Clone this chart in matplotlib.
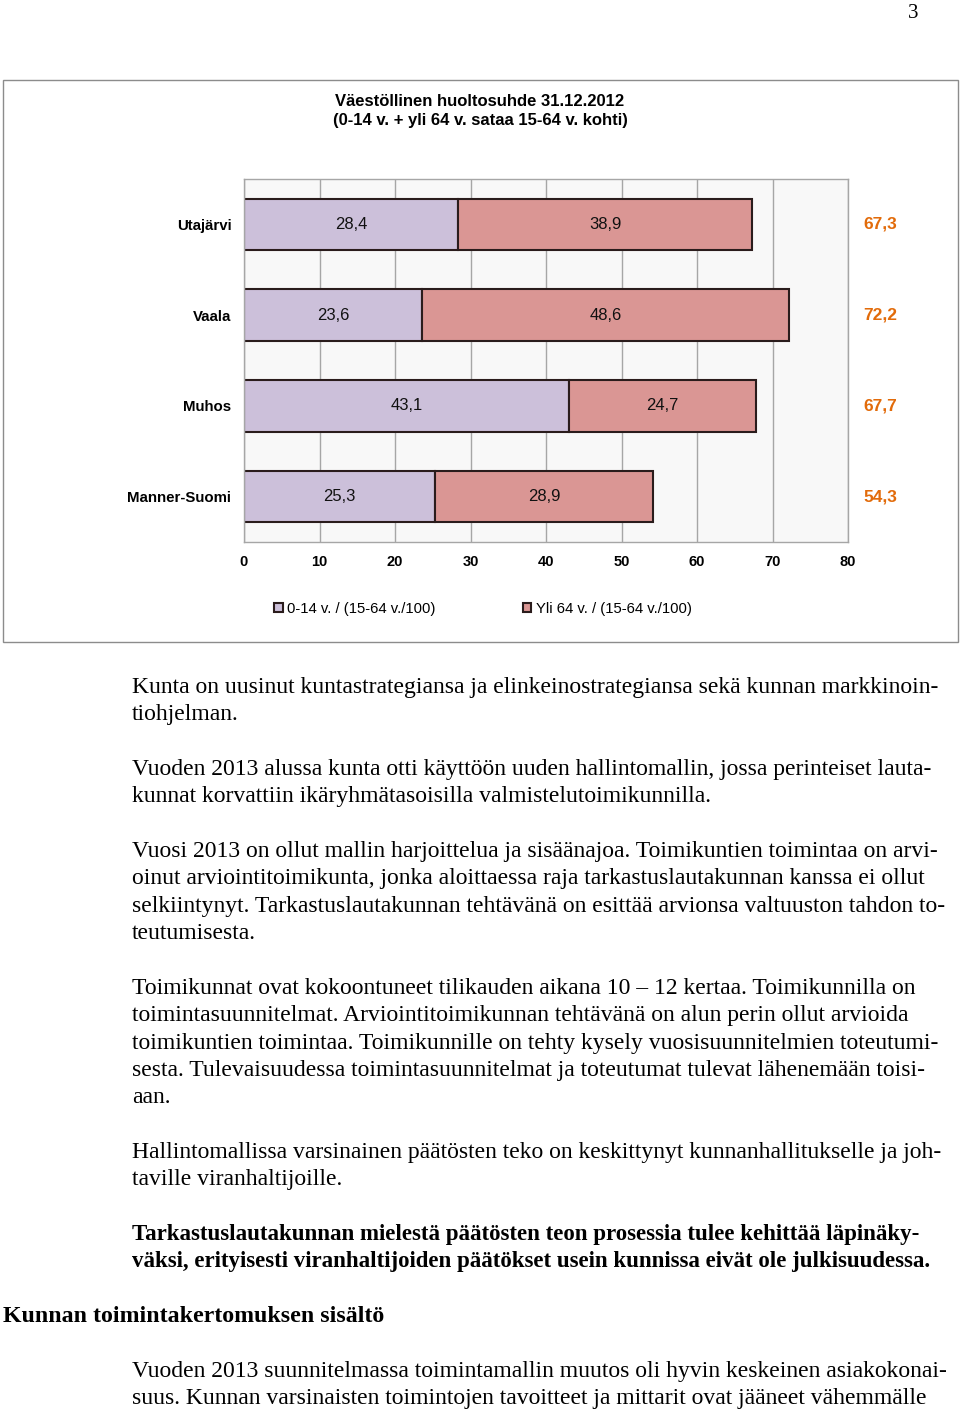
import matplotlib.pyplot as plt
from matplotlib.patches import Rectangle

# chart data
regions = ['Utajärvi', 'Vaala', 'Muhos', 'Manner-Suomi']
young = [28.4, 23.6, 43.1, 25.3]
old = [38.9, 48.6, 24.7, 28.9]
total = [67.3, 72.2, 67.7, 54.3]
series_names = ['0-14 v. / (15-64 v./100)', 'Yli 64 v. / (15-64 v./100)']
chart_title = 'Väestöllinen huoltosuhde 31.12.2012\n(0-14 v. + yli 64 v. sataa 15-64 v. kohti)'
x_ticks = [0, 10, 20, 30, 40, 50, 60, 70, 80]

# page text below the chart: (text, weight, indented); None = blank line
body_lines = [
    ('Kunta on uusinut kuntastrategiansa ja elinkeinostrategiansa sekä kunnan markkinoin-', 'normal', True),
    ('tiohjelman.', 'normal', True),
    None,
    ('Vuoden 2013 alussa kunta otti käyttöön uuden hallintomallin, jossa perinteiset lauta-', 'normal', True),
    ('kunnat korvattiin ikäryhmätasoisilla valmistelutoimikunnilla.', 'normal', True),
    None,
    ('Vuosi 2013 on ollut mallin harjoittelua ja sisäänajoa. Toimikuntien toimintaa on arvi-', 'normal', True),
    ('oinut arviointitoimikunta, jonka aloittaessa raja tarkastuslautakunnan kanssa ei ollut', 'normal', True),
    ('selkiintynyt. Tarkastuslautakunnan tehtävänä on esittää arvionsa valtuuston tahdon to-', 'normal', True),
    ('teutumisesta.', 'normal', True),
    None,
    ('Toimikunnat ovat kokoontuneet tilikauden aikana 10 – 12 kertaa. Toimikunnilla on', 'normal', True),
    ('toimintasuunnitelmat. Arviointitoimikunnan tehtävänä on alun perin ollut arvioida', 'normal', True),
    ('toimikuntien toimintaa. Toimikunnille on tehty kysely vuosisuunnitelmien toteutumi-', 'normal', True),
    ('sesta. Tulevaisuudessa toimintasuunnitelmat ja toteutumat tulevat lähenemään toisi-', 'normal', True),
    ('aan.', 'normal', True),
    None,
    ('Hallintomallissa varsinainen päätösten teko on keskittynyt kunnanhallitukselle ja joh-', 'normal', True),
    ('taville viranhaltijoille.', 'normal', True),
    None,
    ('Tarkastuslautakunnan mielestä päätösten teon prosessia tulee kehittää läpinäky-', 'bold', True),
    ('väksi, erityisesti viranhaltijoiden päätökset usein kunnissa eivät ole julkisuudessa.', 'bold', True),
    None,
    ('Kunnan toimintakertomuksen sisältö', 'bold', False),
    None,
    ('Vuoden 2013 suunnitelmassa toimintamallin muutos oli hyvin keskeinen asiakokonai-', 'normal', True),
    ('suus. Kunnan varsinaisten toimintojen tavoitteet ja mittarit ovat jääneet vähemmälle', 'normal', True),
]

W, H = 960, 1410
plt.rcParams['font.family'] = ['Liberation Sans', 'DejaVu Sans']
serif = ['Liberation Serif', 'DejaVu Serif']

fig = plt.figure(figsize=(W / 100, H / 100), dpi=100)

# chart frame
fig.patches.append(Rectangle((3 / W, 1 - 642 / H), 955 / W, 562 / H, transform=fig.transFigure,
                             facecolor='none', edgecolor='#8c8c8c', linewidth=1.0, zorder=-1))

ax = fig.add_axes([244 / W, 1 - 542 / H, 604 / W, 363 / H])
ax.set_facecolor('#f8f8f8')

ypos = list(range(len(regions)))
bar_h = 0.57
b1 = ax.barh(ypos, young, height=bar_h, color='#ccc0da', edgecolor='#2a1c1c', linewidth=1.5,
             label=series_names[0])
b2 = ax.barh(ypos, old, left=young, height=bar_h, color='#da9694', edgecolor='#2a1c1c',
             linewidth=1.5, label=series_names[1])
for bars, vals in ((b1, young), (b2, old)):
    ax.bar_label(bars, labels=[f'{v:.1f}'.replace('.', ',') for v in vals], label_type='center',
                 fontsize=12, color='#111111')

for y, t in zip(ypos, total):
    ax.text(84.3, y, f'{t:.1f}'.replace('.', ','), ha='center', va='center', fontsize=12.5,
            fontweight='bold', color='#e26b0a', clip_on=False)

ax.set_xlim(0, 80)
ax.set_ylim(len(regions) - 0.5, -0.5)
ax.set_xticks(x_ticks)
ax.set_xticklabels([str(t) for t in x_ticks], fontsize=10.5, fontweight='bold')
ax.set_yticks(ypos)
ax.set_yticklabels(regions, fontsize=10.8, fontweight='bold')
ax.tick_params(axis='both', length=0)
ax.tick_params(axis='y', pad=9)
ax.tick_params(axis='x', pad=9)
ax.xaxis.grid(True, color='#a6a6a6', linewidth=1.0)
ax.set_axisbelow(True)
for s in ax.spines.values():
    s.set_color('#a6a6a6')
    s.set_linewidth(1.0)

fig.text(480 / W, 1 - 111 / H, chart_title, ha='center', va='center', fontsize=12,
         fontweight='bold', linespacing=1.3)

fig.legend([b1, b2], series_names, loc='center', bbox_to_anchor=(483 / W, 1 - 609 / H),
           ncol=2, frameon=False, fontsize=10.7, handlelength=0.55, handleheight=0.55,
           handletextpad=0.3, columnspacing=5.9)

# page number
fig.text(913 / W, 1 - 13 / H, '3', ha='center', va='center', fontsize=15, family=serif)

# body text
baseline = 693
step = 27.35
for line in body_lines:
    if line is not None:
        text, weight, indented = line
        x = 132 if indented else 3
        if weight == 'bold':
            size = 16.5 if indented else 17.2
        else:
            size = 17
        fig.text(x / W, 1 - baseline / H, text, ha='left', va='baseline', fontsize=size,
                 fontweight=weight, family=serif)
    baseline += step

fig.savefig('out.png', dpi=100, facecolor='white')
